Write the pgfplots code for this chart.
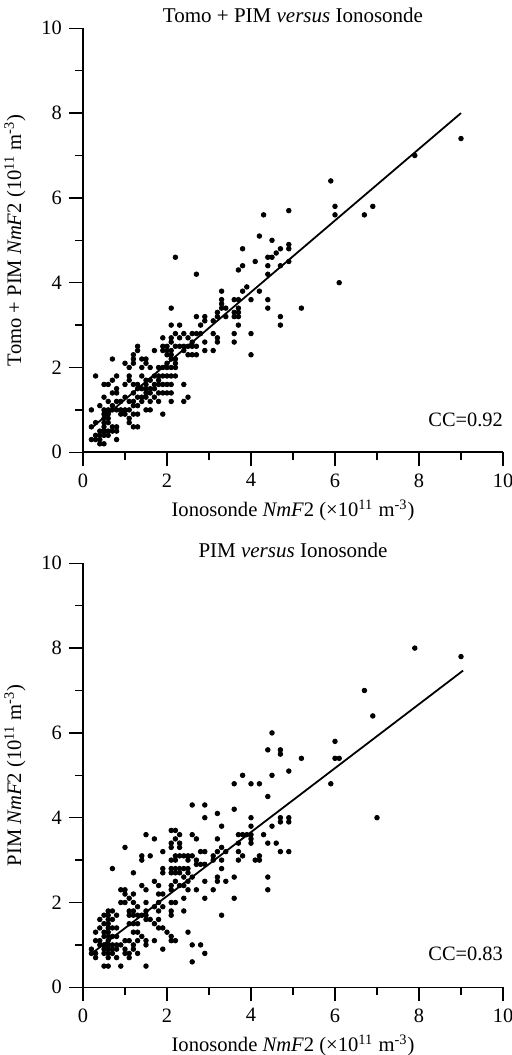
\documentclass[border=0pt]{standalone}
\usepackage{fontspec}
\setmainfont{Liberation Serif}
\usepackage{pgfplots}
\pgfplotsset{compat=1.18}
\pgfplotsset{
 every axis title shift=0pt,
 myax/.style={
  scale only axis, width=210pt, height=212pt,
  xmin=0,xmax=10,ymin=0,ymax=10,
  axis x line*=bottom, axis y line*=left,
  axis line style={-, line width=0.8pt},
  xtick={0,2,...,10}, ytick={0,2,...,10}, minor tick num=1,
  tick align=outside, major tick length=7pt, minor tick length=4pt,
  tick style={black, line width=0.75pt},
  /pgf/number format/assume math mode=true,
  tick label style={font=\fontsize{10.2}{12}\selectfont},
  label style={font=\fontsize{10.3}{12}\selectfont},
  title style={font=\fontsize{10.5}{12}\selectfont, at={(axis description cs:0.5,1.03)}, anchor=center, yshift=0pt},
  xlabel style={at={(axis description cs:0.5,-0.137)}, anchor=center},
  ylabel style={at={(axis description cs:-0.162,0.5)}, anchor=center},
  clip=false,
 },
 dots/.style={only marks, mark=*, mark size=1.15pt, black},
 fit/.style={black, line width=0.9pt, no marks},
}
\begin{document}
\fontsize{10.3}{12}\selectfont
\begin{tikzpicture}
\useasboundingbox (0,0) rectangle (256pt,527.5pt);
\begin{axis}[myax, at={(41.5pt,301.35pt)}, anchor=origin,
  title={Tomo + PIM \textit{versus} Ionosonde},
  xlabel={Ionosonde \textit{NmF}2 (×10\textsuperscript{11} m\textsuperscript{-3})},
  ylabel={Tomo + PIM \textit{NmF}2 (10\textsuperscript{11} m\textsuperscript{-3})}]
\addplot[dots] coordinates {
(0.2,1.0)(0.2,0.3)(0.2,0.6)
(0.3,1.8)(0.3,0.7)(0.3,0.3)(0.3,0.4)
(0.4,1.1)(0.4,0.5)(0.4,0.3)(0.4,0.2)(0.4,0.4)
(0.5,1.6)(0.5,1.3)(0.5,1.0)(0.5,0.9)(0.5,0.8)(0.5,0.7)(0.5,0.6)(0.5,0.5)(0.5,0.4)(0.5,0.2)
(0.6,1.6)(0.6,1.2)(0.6,1.0)(0.6,0.9)(0.6,0.8)(0.6,0.7)(0.6,0.5)(0.6,0.4)
(0.7,2.2)(0.7,1.7)(0.7,1.4)(0.7,1.1)(0.7,1.0)(0.7,0.6)(0.7,0.5)
(0.8,1.8)(0.8,1.5)(0.8,1.4)(0.8,1.2)(0.8,1.0)(0.8,0.6)(0.8,0.5)(0.8,0.3)
(0.9,1.2)(0.9,1.0)(0.9,0.9)
(1.0,2.1)(1.0,1.6)(1.0,1.3)(1.0,1.0)(1.0,0.9)
(1.1,2.0)(1.1,1.8)(1.1,1.7)(1.1,1.2)(1.1,1.0)(1.1,0.8)(1.1,0.7)
(1.2,2.3)(1.2,2.2)(1.2,2.1)(1.2,1.6)(1.2,1.4)(1.2,1.2)(1.2,1.1)(1.2,0.9)(1.2,0.6)
(1.3,2.5)(1.3,2.4)(1.3,1.6)(1.3,1.5)(1.3,1.3)(1.3,1.1)(1.3,0.9)(1.3,0.6)
(1.4,2.2)(1.4,2.0)(1.4,1.8)(1.4,1.5)(1.4,1.3)(1.4,1.2)
(1.5,2.2)(1.5,2.1)(1.5,1.7)(1.5,1.6)(1.5,1.5)(1.5,1.4)(1.5,1.3)(1.5,1.0)
(1.6,2.0)(1.6,1.7)(1.6,1.5)(1.6,1.4)(1.6,1.2)(1.6,1.0)
(1.7,2.4)(1.7,1.8)(1.7,1.6)(1.7,1.5)(1.7,1.3)
(1.8,2.0)(1.8,1.8)(1.8,1.7)(1.8,1.6)(1.8,1.4)(1.8,1.2)
(1.9,2.7)(1.9,2.5)(1.9,2.4)(1.9,2.0)(1.9,1.8)(1.9,1.6)(1.9,1.4)(1.9,0.9)
(2.0,2.5)(2.0,2.4)(2.0,2.3)(2.0,2.1)(2.0,2.0)(2.0,1.8)(2.0,1.6)(2.0,1.4)
(2.1,3.4)(2.1,3.0)(2.1,2.7)(2.1,2.6)(2.1,2.4)(2.1,2.3)(2.1,2.2)(2.1,2.0)(2.1,1.8)(2.1,1.6)(2.1,1.4)(2.1,1.2)
(2.2,4.6)(2.2,2.8)(2.2,2.5)(2.2,2.2)(2.2,2.1)(2.2,2.0)(2.2,1.8)
(2.3,3.0)(2.3,2.7)(2.3,2.5)
(2.4,2.8)(2.4,2.5)(2.4,2.4)(2.4,1.6)(2.4,1.2)
(2.5,2.7)(2.5,2.5)(2.5,2.3)(2.5,1.3)
(2.6,2.8)(2.6,2.6)(2.6,2.5)(2.6,2.3)
(2.7,4.2)(2.7,3.2)(2.7,2.8)(2.7,2.5)(2.7,2.3)
(2.8,3.0)(2.8,2.8)
(2.9,3.2)(2.9,3.1)(2.9,2.6)(2.9,2.4)
(3.1,3.1)(3.1,2.8)(3.1,2.4)
(3.2,3.3)(3.2,3.2)(3.2,2.7)(3.2,2.6)
(3.3,3.8)(3.3,3.6)(3.3,3.5)(3.3,3.4)
(3.4,3.4)(3.4,3.2)
(3.6,3.6)(3.6,3.3)(3.6,3.2)(3.6,2.8)(3.6,2.6)
(3.7,4.3)(3.7,3.6)(3.7,3.4)(3.7,3.3)(3.7,3.2)(3.7,3.0)
(3.8,4.8)(3.8,4.4)(3.8,3.8)
(3.9,3.9)
(4.0,3.6)(4.0,2.8)(4.0,2.3)
(4.1,4.5)
(4.2,5.1)(4.2,3.8)
(4.3,5.6)
(4.4,4.6)(4.4,4.4)(4.4,4.2)(4.4,3.6)(4.4,3.4)
(4.5,5.0)(4.5,4.6)
(4.6,4.7)
(4.7,4.8)(4.7,4.4)(4.7,3.2)(4.7,3.0)
(4.9,5.7)(4.9,4.9)(4.9,4.8)(4.9,4.5)
(5.2,3.4)(5.9,6.4)(6.0,5.8)(6.0,5.6)(6.1,4.0)(6.7,5.6)(6.9,5.8)(7.9,7.0)(9.0,7.4)
};
\addplot[fit] coordinates {(0.2,0.57)(9.0,8.0)};
\node[anchor=east, font=\fontsize{10.2}{12}\selectfont] at (axis cs:10.17,0.76) {CC=0.92};
\end{axis}
\begin{axis}[myax, at={(41.5pt,33.85pt)}, anchor=origin,
  title={PIM \textit{versus} Ionosonde},
  xlabel={Ionosonde \textit{NmF}2 (×10\textsuperscript{11} m\textsuperscript{-3})},
  ylabel={PIM \textit{NmF}2 (10\textsuperscript{11} m\textsuperscript{-3})}]
\addplot[dots] coordinates {
(0.2,0.9)(0.2,0.8)
(0.3,1.3)(0.3,1.1)(0.3,0.8)(0.3,0.7)
(0.4,1.6)(0.4,1.4)(0.4,1.1)(0.4,1.0)
(0.5,1.7)(0.5,1.5)(0.5,1.3)(0.5,1.2)(0.5,1.0)(0.5,0.9)(0.5,0.8)(0.5,0.5)
(0.6,1.8)(0.6,1.7)(0.6,1.6)(0.6,1.5)(0.6,1.4)(0.6,1.3)(0.6,1.2)(0.6,1.1)(0.6,1.0)(0.6,0.9)(0.6,0.8)(0.6,0.7)(0.6,0.5)
(0.7,2.8)(0.7,1.8)(0.7,1.6)(0.7,1.4)(0.7,1.2)(0.7,1.0)(0.7,0.9)(0.7,0.8)
(0.8,1.7)(0.8,1.4)(0.8,1.2)(0.8,1.0)(0.8,0.9)(0.8,0.7)
(0.9,2.3)(0.9,2.0)(0.9,1.0)(0.9,0.5)
(1.0,3.3)(1.0,2.3)(1.0,2.2)(1.0,2.0)(1.0,1.1)(1.0,0.9)(1.0,0.8)
(1.1,2.1)(1.1,1.8)(1.1,1.7)(1.1,1.5)(1.1,1.1)(1.1,0.8)(1.1,0.7)
(1.2,2.7)(1.2,2.2)(1.2,2.0)(1.2,1.8)(1.2,1.7)(1.2,1.5)(1.2,1.3)(1.2,1.0)(1.2,0.9)
(1.3,1.9)(1.3,1.7)(1.3,1.5)(1.3,1.3)(1.3,1.1)(1.3,0.8)
(1.4,3.1)(1.4,3.0)(1.4,2.4)(1.4,1.7)(1.4,1.2)
(1.5,3.6)(1.5,2.3)(1.5,2.0)(1.5,1.8)(1.5,1.7)(1.5,1.6)(1.5,1.1)(1.5,1.0)(1.5,0.5)
(1.6,3.1)(1.6,1.6)
(1.7,3.5)(1.7,2.5)(1.7,1.9)(1.7,1.5)(1.7,1.1)
(1.8,2.4)(1.8,2.2)(1.8,2.0)(1.8,1.8)(1.8,1.6)(1.8,1.4)
(1.9,3.2)(1.9,2.8)(1.9,2.7)(1.9,2.2)(1.9,1.9)(1.9,1.4)(1.9,0.9)
(2.0,1.3)
(2.1,3.7)(2.1,3.4)(2.1,3.3)(2.1,3.0)(2.1,2.8)(2.1,2.7)(2.1,2.4)(2.1,2.3)(2.1,2.0)(2.1,1.8)(2.1,1.7)(2.1,1.2)(2.1,1.1)
(2.2,3.7)(2.2,3.5)(2.2,3.1)(2.2,3.0)(2.2,2.8)(2.2,2.7)(2.2,2.5)(2.2,2.0)(2.2,1.1)
(2.3,3.6)(2.3,3.4)(2.3,3.3)(2.3,3.1)(2.3,2.8)(2.3,2.7)(2.3,2.4)
(2.4,3.1)(2.4,2.8)(2.4,2.6)(2.4,2.4)(2.4,2.1)(2.4,1.8)
(2.5,3.1)(2.5,3.0)(2.5,2.8)(2.5,2.7)(2.5,2.5)(2.5,2.3)(2.5,1.3)
(2.6,4.3)(2.6,3.6)(2.6,3.1)(2.6,2.6)(2.6,1.0)(2.6,0.6)
(2.7,3.5)(2.7,3.0)(2.7,2.9)(2.7,2.3)
(2.8,3.2)(2.8,2.9)(2.8,1.0)
(2.9,4.3)(2.9,4.0)(2.9,3.2)(2.9,2.9)(2.9,2.5)(2.9,2.1)(2.9,0.8)
(3.1,3.1)(3.1,3.0)(3.1,2.3)
(3.2,4.1)(3.2,3.5)(3.2,3.2)(3.2,2.6)(3.2,2.5)
(3.3,3.8)(3.3,3.3)(3.3,3.0)(3.3,2.8)(3.3,1.7)
(3.4,3.2)(3.4,2.5)
(3.6,4.8)(3.6,4.2)(3.6,2.6)(3.6,2.1)
(3.7,3.6)(3.7,3.4)(3.7,3.2)(3.7,3.0)
(3.8,5.0)(3.8,3.6)(3.8,3.1)
(3.9,3.6)
(4.0,4.8)(4.0,4.0)(4.0,3.8)(4.0,3.6)(4.0,3.5)(4.0,3.4)
(4.1,3.0)
(4.2,4.8)(4.2,3.1)(4.2,3.0)
(4.3,3.6)
(4.4,5.6)(4.4,4.5)(4.4,3.4)(4.4,2.6)(4.4,2.3)
(4.5,6.0)(4.5,5.0)(4.5,3.8)
(4.6,3.4)
(4.7,5.6)(4.7,5.5)(4.7,4.0)(4.7,3.9)(4.7,3.2)
(4.9,5.1)(4.9,4.0)(4.9,3.9)(4.9,3.2)
(5.2,5.4)(5.9,4.8)(6.0,5.8)(6.0,5.4)(6.1,5.4)(6.7,7.0)(6.9,6.4)(7.0,4.0)(7.9,8.0)(9.0,7.8)
};
\addplot[fit] coordinates {(0.25,0.83)(9.05,7.47)};
\node[anchor=east, font=\fontsize{10.2}{12}\selectfont] at (axis cs:10.17,0.8) {CC=0.83};
\end{axis}
\end{tikzpicture}
\end{document}
